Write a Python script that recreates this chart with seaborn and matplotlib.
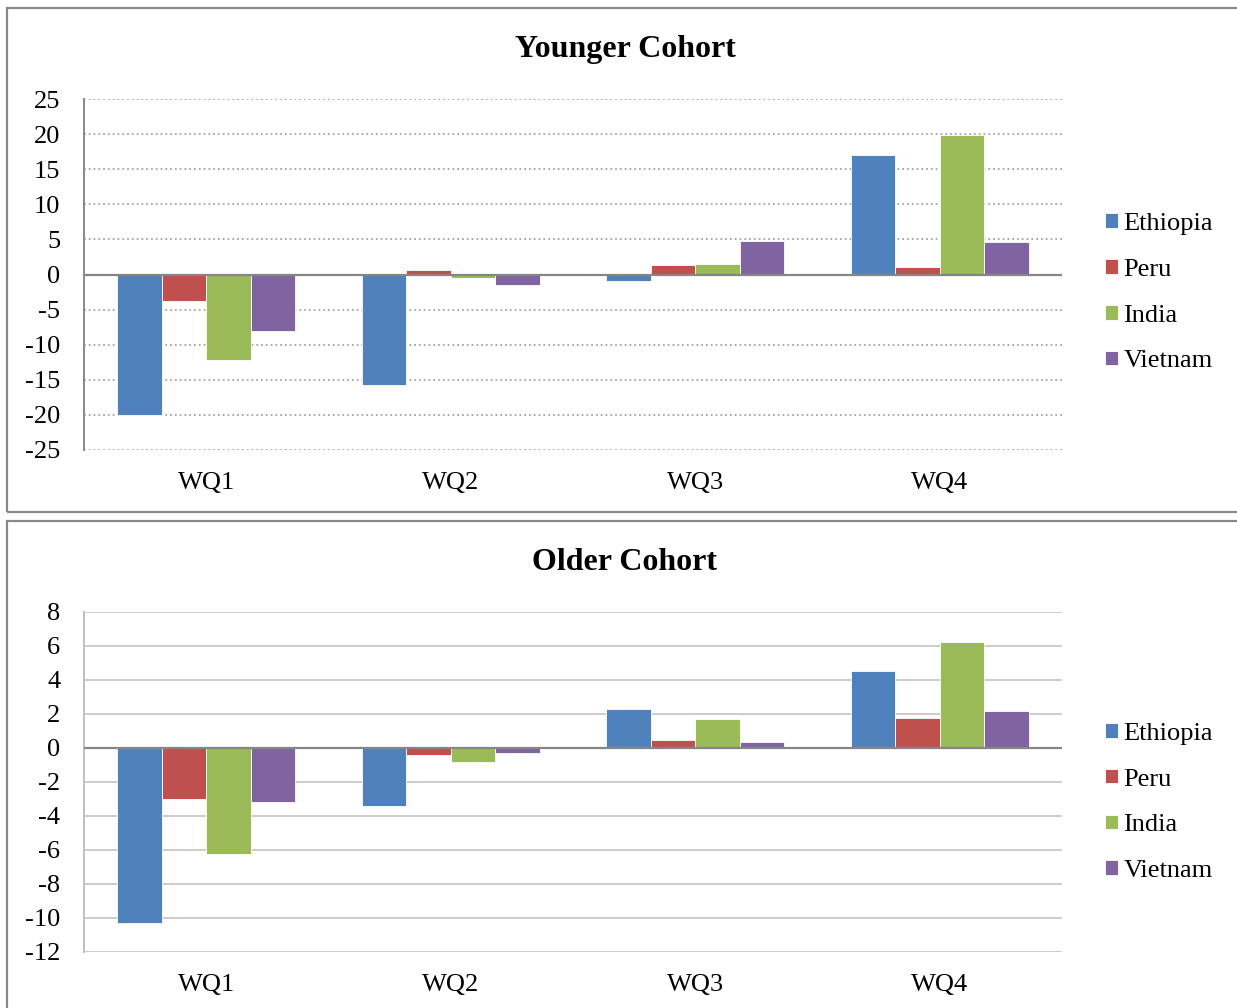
import matplotlib
matplotlib.use("Agg")
import matplotlib.pyplot as plt
from matplotlib.patches import Rectangle
import seaborn as sns
import pandas as pd

quintiles = ["WQ1", "WQ2", "WQ3", "WQ4"]
countries = ["Ethiopia", "Peru", "India", "Vietnam"]
colors = ["#4F81BD", "#C0504D", "#9BBB59", "#8064A2"]

# younger cohort
younger_ethiopia = [-20.0, -15.7, -0.9, 17.0]
younger_peru = [-3.8, 0.7, 1.4, 1.0]
younger_india = [-12.2, -0.5, 1.5, 19.9]
younger_vietnam = [-8.0, -1.5, 4.8, 4.7]

# older cohort
older_ethiopia = [-10.3, -3.4, 2.3, 4.55]
older_peru = [-3.0, -0.4, 0.45, 1.75]
older_india = [-6.25, -0.85, 1.7, 6.25]
older_vietnam = [-3.15, -0.3, 0.35, 2.2]


def make_frame(series):
    rows = []
    for country, vals in zip(countries, series):
        for q, v in zip(quintiles, vals):
            rows.append({"quintile": q, "country": country, "value": v})
    return pd.DataFrame(rows)


df_young = make_frame([younger_ethiopia, younger_peru, younger_india, younger_vietnam])
df_old = make_frame([older_ethiopia, older_peru, older_india, older_vietnam])

sns.set_theme(style="white")
plt.rcParams["font.family"] = ["Liberation Serif", "DejaVu Serif"]
plt.rcParams["axes.unicode_minus"] = False
plt.rcParams["text.color"] = "black"
plt.rcParams["xtick.color"] = "black"
plt.rcParams["ytick.color"] = "black"

W, H = 1237, 1008
fig = plt.figure(figsize=(W / 100, H / 100), dpi=100)

# panel frames
for (x0, y0, x1, y1) in [(7, 8, 1260, 512), (7, 521, 1260, 1030)]:
    fig.patches.append(Rectangle((x0 / W, 1 - y1 / H), (x1 - x0) / W, (y1 - y0) / H,
                                 transform=fig.transFigure, fill=False,
                                 edgecolor="#8a8a8a", linewidth=1.6))


def draw(df, box, ylim, step, title, title_y, grid_ls, grid_color, leg_y):
    left, top, right, bottom = box
    ax = fig.add_axes([left / W, 1 - bottom / H, (right - left) / W, (bottom - top) / H])
    sns.barplot(data=df, x="quintile", y="value", hue="country", order=quintiles,
                hue_order=countries, palette=colors, width=0.728, errorbar=None,
                edgecolor="white", linewidth=0.6, saturation=1, ax=ax)
    ax.set_ylim(*ylim)
    ax.set_yticks(range(ylim[0], ylim[1] + 1, step))
    ax.set_xlim(-0.5, 3.5)
    ax.set_axisbelow(True)
    ax.yaxis.grid(True, linestyle=grid_ls, color=grid_color, linewidth=1.3)
    ax.axhline(0, color="#868686", linewidth=1.6, zorder=4)
    for s in ["top", "right", "bottom"]:
        ax.spines[s].set_visible(False)
    ax.spines["left"].set_color("#8a8a8a" if grid_ls == ":" else "#bfbfbf")
    ax.spines["left"].set_linewidth(1.4)
    ax.tick_params(axis="y", length=0, pad=17, labelsize=19)
    ax.tick_params(axis="x", length=0, pad=16, labelsize=19)
    ax.set_xlabel("")
    ax.set_ylabel("")
    handles, labels = ax.get_legend_handles_labels()
    ax.legend(handles, labels, loc="center left", bbox_to_anchor=(1.044, leg_y),
              frameon=False, fontsize=19, handlelength=0.48, handleheight=0.48,
              handletextpad=0.22, labelspacing=0.9, borderpad=0, borderaxespad=0)
    fig.text(625 / W, 1 - title_y / H, title, ha="center", va="center",
             fontsize=23, fontweight="bold")
    return ax


draw(df_young, (84, 99, 1062, 450), (-25, 25), 5, "Younger Cohort", 49, ":", "#a6a6a6", 0.448)
draw(df_old, (84, 612, 1062, 952), (-12, 8), 2, "Older Cohort", 563, "-", "#c8c8c8", 0.44)

fig.savefig("out.png", dpi=100)
